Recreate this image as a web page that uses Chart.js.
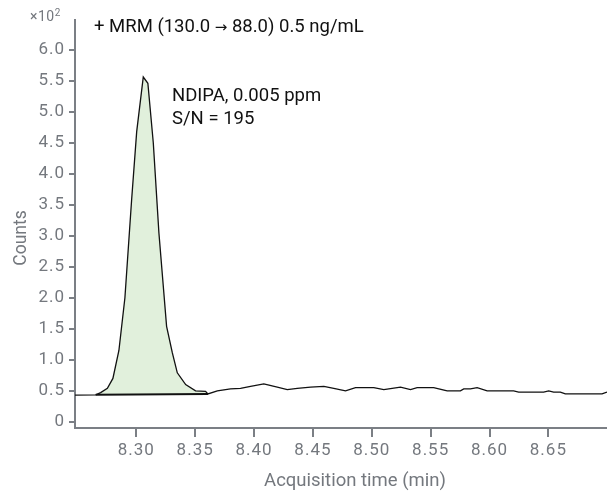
<!DOCTYPE html>
<html>
<head>
<meta charset="utf-8">
<script src="https://cdn.jsdelivr.net/npm/chart.js@4.4.1/dist/chart.umd.min.js"></script>
<style>
  html, body { margin: 0; padding: 0; background: #fff; }
  #wrap { width: 607px; height: 498px; }
</style>
</head>
<body>
<div id="wrap"><canvas id="chromChart" width="607" height="498"></canvas></div>
<script>
// chromatogram, counts in x10^2
const times = [8.2479, 8.2655, 8.2697, 8.2754, 8.2801, 8.2852, 8.2903, 8.2960, 8.3003, 8.3059,
  8.3098, 8.3144, 8.3192, 8.3257, 8.3306, 8.3348, 8.3419, 8.3503, 8.3588, 8.3608,
  8.3688, 8.3800, 8.3885, 8.3970, 8.4083, 8.4197, 8.4282, 8.4367, 8.4480, 8.4593,
  8.4677, 8.4777, 8.4862, 8.5017, 8.5102, 8.5173, 8.5244, 8.5329, 8.5385, 8.5526,
  8.5640, 8.5753, 8.5781, 8.5838, 8.5895, 8.5980, 8.6205, 8.6248, 8.6460, 8.6503,
  8.6545, 8.6602, 8.6644, 8.6956, 8.6998];
const counts = [0.43, 0.435, 0.47, 0.54, 0.70, 1.15, 2.00, 3.58, 4.68, 5.56,
  5.46, 4.50, 3.04, 1.54, 1.11, 0.79, 0.60, 0.50, 0.49, 0.45,
  0.50, 0.53, 0.54, 0.57, 0.61, 0.56, 0.52, 0.54, 0.56, 0.57,
  0.54, 0.50, 0.55, 0.55, 0.52, 0.54, 0.56, 0.52, 0.55, 0.55,
  0.50, 0.50, 0.53, 0.53, 0.55, 0.50, 0.50, 0.48, 0.48, 0.50,
  0.48, 0.48, 0.45, 0.45, 0.48];

// integrated peak
const peakStart = 8.2655;
const peakEnd = 8.3608;
const baselineTimes = [8.2655, 8.3608];
const baselineCounts = [0.435, 0.45];

const xTicks = [8.30, 8.35, 8.40, 8.45, 8.50, 8.55, 8.60, 8.65];
const yTicks = [0, 0.5, 1.0, 1.5, 2.0, 2.5, 3.0, 3.5, 4.0, 4.5, 5.0, 5.5, 6.0];

const traceLabel = ['+ MRM (130.0 ', '\u2192', ' 88.0) 0.5 ng/mL'];
const peakLabel = ['NDIPA, 0.005 ppm', 'S/N = 195'];

const grey = '#74787e';
const axisGrey = '#7b7f85';
const FONT = 'Roboto';

const trace = times.map((t, i) => ({ x: t, y: counts[i] }));
const peakArea = trace.filter(p => p.x >= peakStart && p.x <= peakEnd);
const baseline = baselineTimes.map((t, i) => ({ x: t, y: baselineCounts[i] }));

Chart.defaults.font.family = FONT;

// tick labels in the original are a bit spaced out
const spacingPlugin = {
  id: 'spacing',
  beforeDraw(chart) { chart.ctx.letterSpacing = '1px'; }
};

const textPlugin = {
  id: 'texts',
  afterDraw(chart) {
    const ctx = chart.ctx;
    ctx.save();
    ctx.textBaseline = 'alphabetic';
    // multiplier
    ctx.fillStyle = grey;
    ctx.textAlign = 'left';
    ctx.letterSpacing = '0.5px';
    ctx.font = '14px ' + FONT;
    ctx.fillText('\u00d710', 30, 21);
    const w = ctx.measureText('\u00d710').width;
    ctx.letterSpacing = '0px';
    ctx.font = '10px ' + FONT;
    ctx.fillText('2', 30 + w, 15.5);
    // axis titles
    ctx.font = '18.5px ' + FONT;
    ctx.textAlign = 'center';
    ctx.fillText('Acquisition time (min)', 355, 486);
    ctx.save();
    ctx.translate(26, 238);
    ctx.rotate(-Math.PI / 2);
    ctx.font = '17.5px ' + FONT;
    ctx.fillText('Counts', 0, 0);
    ctx.restore();
    // labels in plot
    ctx.fillStyle = '#111';
    ctx.textAlign = 'left';
    let x = 94;
    ctx.font = '18.5px ' + FONT;
    ctx.fillText(traceLabel[0], x, 32);
    x += ctx.measureText(traceLabel[0]).width;
    ctx.font = '15px "DejaVu Sans"';
    ctx.fillText(traceLabel[1], x, 32);
    x += ctx.measureText(traceLabel[1]).width;
    ctx.font = '18.5px ' + FONT;
    ctx.fillText(traceLabel[2], x, 32);
    ctx.fillText(peakLabel[0], 172, 101);
    ctx.fillText(peakLabel[1], 172, 124);
    ctx.restore();
  }
};

const ctx = document.getElementById('chromChart').getContext('2d');
const chromChart = new Chart(ctx, {
  type: 'line',
  data: {
    datasets: [
      {
        label: 'trace',
        data: trace,
        borderColor: '#111',
        borderWidth: 1.3,
        pointRadius: 0,
        tension: 0,
        fill: false
      },
      {
        label: 'baseline',
        data: baseline,
        borderColor: '#111',
        borderWidth: 2,
        pointRadius: 0,
        fill: false
      },
      {
        label: 'peak',
        data: peakArea,
        borderWidth: 0,
        borderColor: 'rgba(0,0,0,0)',
        backgroundColor: 'rgb(225, 240, 220)',
        pointRadius: 0,
        tension: 0,
        fill: 1
      }
    ]
  },
  options: {
    responsive: false,
    animation: false,
    events: [],
    layout: { padding: { top: 20, right: 0, left: 0, bottom: 0 } },
    plugins: {
      legend: { display: false },
      tooltip: { enabled: false }
    },
    scales: {
      x: {
        type: 'linear',
        min: 8.2479,
        max: 8.6998,
        afterBuildTicks: scale => { scale.ticks = xTicks.map(v => ({ value: v })); },
        afterFit: scale => { scale.height = 70; },
        border: { display: true, color: axisGrey, width: 2 },
        grid: { display: true, drawOnChartArea: false, drawTicks: true, tickLength: 9, color: axisGrey, lineWidth: 2 },
        ticks: {
          color: grey,
          font: { size: 17 },
          padding: 4,
          maxRotation: 0,
          callback: v => v.toFixed(2)
        }
      },
      y: {
        type: 'linear',
        min: -0.1,
        max: 6.48,
        afterBuildTicks: scale => { scale.ticks = yTicks.map(v => ({ value: v })); },
        afterFit: scale => { scale.width = 75; },
        border: { display: true, color: axisGrey, width: 2 },
        grid: { display: true, drawOnChartArea: false, drawTicks: true, tickLength: 6, color: axisGrey, lineWidth: 2 },
        ticks: {
          color: grey,
          font: { size: 17 },
          padding: 4,
          callback: v => (v === 0 ? '0' : v.toFixed(1))
        }
      }
    }
  },
  plugins: [spacingPlugin, textPlugin]
});
</script>
</body>
</html>
